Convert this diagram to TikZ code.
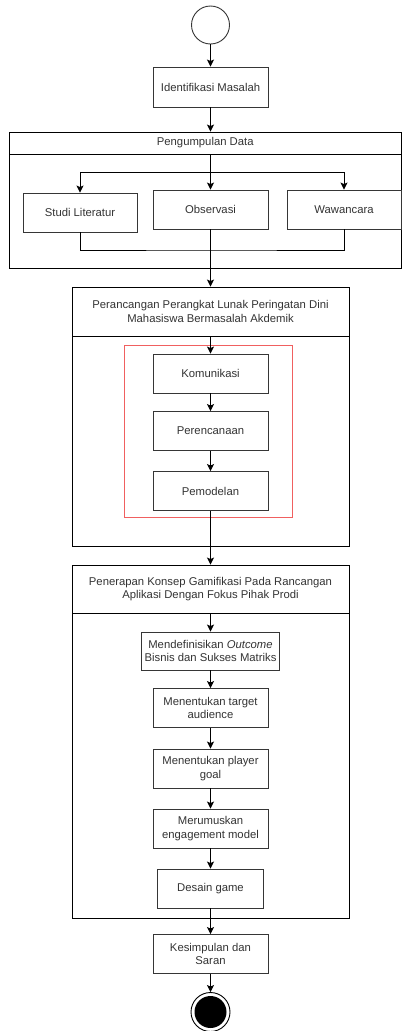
\documentclass[tikz,border=0pt]{standalone}
\usepackage{fontspec}
\setmainfont{Liberation Sans}
\usetikzlibrary{arrows.meta,positioning,calc}
\definecolor{garis}{RGB}{54,54,54}
\definecolor{teks}{RGB}{51,51,51}
\definecolor{merah}{RGB}{240,96,96}
\tikzset{
  kotak/.style={draw=garis, fill=white, line width=0.9pt, minimum width=115pt,
    minimum height=39pt, inner sep=1pt, align=center, text=teks,
    font=\fontsize{11.3}{13.5}\selectfont},
  lajur/.style={draw=black, line width=0.9pt, minimum width=277pt, inner sep=0pt,
    align=center, text=teks, font=\fontsize{11.3}{13.5}\selectfont},
  panah/.style={-{Stealth[length=7pt,width=7pt,inset=1.5pt]}, line width=0.9pt},
  garisan/.style={line width=0.9pt}
}
\begin{document}
\begin{tikzpicture}[x=1pt,y=-1pt]
\useasboundingbox (0,0) rectangle (402,1031);

% lajur / containers
\draw (205.25,143) node(pdhead)[lajur, minimum width=392.5pt, minimum height=22pt] {Pengumpulan Data};
\draw (205.25,211) node(pdbody)[lajur, minimum width=392.5pt, minimum height=114pt] {};
\draw (210.5,311.5) node(prhead)[lajur, minimum height=49pt] {Perancangan Perangkat Lunak Peringatan Dini\\Mahasiswa Bermasalah Akdemik};
\draw (210.5,441) node(prbody)[lajur, minimum height=210pt] {};
\draw (208,431) node(bingkai)[draw=merah, line width=0.9pt, minimum width=168pt, minimum height=172pt] {};
\draw (210.5,589) node(pnhead)[lajur, minimum height=48pt] {Penerapan Konsep Gamifikasi Pada Rancangan\\Aplikasi Dengan Fokus Pihak Prodi};
\draw (210.5,765.5) node(pnbody)[lajur, minimum height=305pt] {};

% awal
\draw (210.5,25) node(mulai)[circle, draw=garis, fill=white, line width=0.9pt, minimum size=38pt] {};

% langkah
\draw (210.5,87) node(ident)[kotak, minimum height=40pt] {Identifikasi Masalah};
\draw (80,212.5) node(studi)[kotak, minimum width=114pt] {Studi Literatur};
\draw (210.5,209.5) node(obs)[kotak] {Observasi};
\draw (344,209.5) node(waw)[kotak, minimum width=114pt] {Wawancara};
\draw (210.5,373.5) node(kom)[kotak] {Komunikasi};
\draw (210.5,431) node(ren)[kotak] {Perencanaan};
\draw (210.5,491) node(model)[kotak] {Pemodelan};
\draw (210.5,651) node(outc)[kotak, minimum width=138pt, minimum height=38pt] {Mendefinisikan \textit{Outcome}\\Bisnis dan Sukses Matriks};
\draw (210.5,708) node(target)[kotak] {Menentukan target\\audience};
\draw (210.5,768.5) node(goal)[kotak] {Menentukan player\\goal};
\draw (210.5,828.5) node(engage)[kotak] {Merumuskan\\engagement model};
\draw (210.5,888.5) node(game)[kotak, minimum width=106pt] {Desain game};
\draw (210.5,954) node(simpul)[kotak] {Kesimpulan dan\\Saran};

% akhir
\draw (210.5,1012) node(selesai)[circle, draw=black, fill=white, line width=0.9pt, minimum size=39pt] {};
\draw (210.5,1012) node(selesaiin)[circle, fill=black, minimum size=32pt] {};

% percabangan
\coordinate (cabang) at (210.5,172);
\coordinate (gabung) at (210.5,250);

\draw[panah] (mulai) -- (ident);
\draw[panah] (ident.south) -- (ident.south |- pdhead.north);
\draw[panah] (pdhead.south -| obs.north) -- (obs.north);
\draw[panah] (cabang) -| (studi.north);
\draw[panah] (cabang) -| (waw.north);
\draw[garisan] (studi.south) |- (gabung) -| (waw.south);
\draw[panah] (obs.south) -- (prhead.north);
\draw[panah] (prhead.south) -- (kom.north);
\draw[panah] (kom) -- (ren);
\draw[panah] (ren) -- (model);
\draw[panah] (model.south) -- (pnhead.north);
\draw[panah] (pnhead.south) -- (outc.north);
\draw[panah] (outc) -- (target);
\draw[panah] (target) -- (goal);
\draw[panah] (goal) -- (engage);
\draw[panah] (engage) -- (game);
\draw[panah] (game.south) -- (simpul.north);
\draw[panah] (simpul) -- (selesai);
\end{tikzpicture}
\end{document}
